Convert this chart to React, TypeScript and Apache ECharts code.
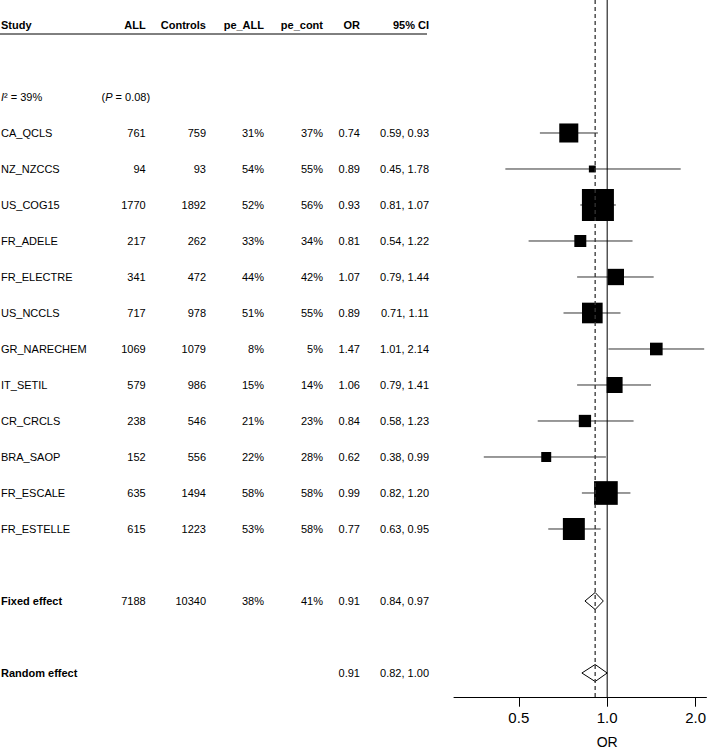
import React, { useEffect, useRef } from "react";
import * as echarts from "echarts";

// ---------- data ----------
const studies = ["CA_QCLS", "NZ_NZCCS", "US_COG15", "FR_ADELE", "FR_ELECTRE", "US_NCCLS", "GR_NARECHEM", "IT_SETIL", "CR_CRCLS", "BRA_SAOP", "FR_ESCALE", "FR_ESTELLE"];
const nAll = [761, 94, 1770, 217, 341, 717, 1069, 579, 238, 152, 635, 615];
const nControls = [759, 93, 1892, 262, 472, 978, 1079, 986, 546, 556, 1494, 1223];
const peAll = ["31%", "54%", "52%", "33%", "44%", "51%", "8%", "15%", "21%", "22%", "58%", "53%"];
const peCont = ["37%", "55%", "56%", "34%", "42%", "55%", "5%", "14%", "23%", "28%", "58%", "58%"];
const orVals = [0.74, 0.89, 0.93, 0.81, 1.07, 0.89, 1.47, 1.06, 0.84, 0.62, 0.99, 0.77];
const ciLow = [0.59, 0.45, 0.81, 0.54, 0.79, 0.71, 1.01, 0.79, 0.58, 0.38, 0.82, 0.63];
const ciHigh = [0.93, 1.78, 1.07, 1.22, 1.44, 1.11, 2.14, 1.41, 1.23, 0.99, 1.2, 0.95];
const weights = [9.1, 1.2, 25.7, 3.6, 6.7, 10.7, 4.0, 6.4, 3.8, 2.5, 14.1, 12.1];

const headers = ["Study", "ALL", "Controls", "pe_ALL", "pe_cont", "OR", "95% CI"];
const pooledLabels = ["Fixed effect", "Random effect"];
const pooledAll = ["7188", ""];
const pooledControls = ["10340", ""];
const pooledPeAll = ["38%", ""];
const pooledPeCont = ["41%", ""];
const pooledOR = [0.91, 0.91];
const pooledLow = [0.84, 0.82];
const pooledHigh = [0.97, 1.0];
const i2Text = "39%";
const pText = "0.08";
const tickValues = [0.5, 1, 2];
const axisTitle = "OR";

// ---------- layout ----------
const FONT = "'Liberation Sans', Arial, Helvetica, sans-serif";
const colRight = [145.7, 206, 264, 323, 360, 429];
const studyX = 1;
const pX = 101.5;
const headerSlot = 0;
const hetSlot = 2;
const firstStudySlot = 3;
const pooledSlots = [16, 18];
const yMin = -0.694;
const yMax = 18.686;
const xMin = -1.733;
const xMax = 1.123;

type Cell = { x: number; slot: number; text: string; align: string; bold?: boolean; rich?: boolean };
const cells: Cell[] = [];
headers.forEach((h, i) => {
  if (i === 0) cells.push({ x: studyX, slot: headerSlot, text: h, align: "left", bold: true });
  else cells.push({ x: colRight[i - 1], slot: headerSlot, text: h, align: "right", bold: true });
});
cells.push({ x: studyX, slot: hetSlot, text: "{it|I}² = " + i2Text, align: "left", rich: true });
cells.push({ x: pX, slot: hetSlot, text: "({it|P} = " + pText + ")", align: "left", rich: true });
studies.forEach((s, i) => {
  const slot = firstStudySlot + i;
  const vals = [String(nAll[i]), String(nControls[i]), peAll[i], peCont[i], orVals[i].toFixed(2), ciLow[i].toFixed(2) + ", " + ciHigh[i].toFixed(2)];
  cells.push({ x: studyX, slot, text: s, align: "left" });
  vals.forEach((v, j) => cells.push({ x: colRight[j], slot, text: v, align: "right" }));
});
pooledLabels.forEach((s, i) => {
  const slot = pooledSlots[i];
  const vals = [pooledAll[i], pooledControls[i], pooledPeAll[i], pooledPeCont[i], pooledOR[i].toFixed(2), pooledLow[i].toFixed(2) + ", " + pooledHigh[i].toFixed(2)];
  cells.push({ x: studyX, slot, text: s, align: "left", bold: true });
  vals.forEach((v, j) => {
    if (v) cells.push({ x: colRight[j], slot, text: v, align: "right" });
  });
});

const maxW = Math.max(...weights);
const maxBox = 32;

export default function App() {
  const ref = useRef<HTMLDivElement>(null);
  useEffect(() => {
    document.body.style.margin = "0";
    const chart = echarts.init(ref.current!, null, { renderer: "svg" });
    const option: any = {
      animation: false,
      backgroundColor: "#fff",
      textStyle: { fontFamily: FONT },
      grid: { left: 454, right: 0, top: 0, bottom: 52.3, containLabel: false },
      xAxis: {
        type: "value",
        min: xMin,
        max: xMax,
        splitLine: { show: false },
        axisLine: { show: true, onZero: false, lineStyle: { color: "#000", width: 1 } },
        axisTick: { show: true, customValues: tickValues.map((v) => Math.log2(v)), length: 9, lineStyle: { color: "#000", width: 1 } },
        axisLabel: {
          customValues: tickValues.map((v) => Math.log2(v)),
          formatter: (v: number) => Math.pow(2, v).toFixed(1),
          fontSize: 15,
          color: "#000",
          margin: 12,
          fontFamily: FONT,
        },
      },
      yAxis: { type: "value", inverse: true, min: yMin, max: yMax, show: false },
      graphic: [
        { type: "line", shape: { x1: 0, y1: 34, x2: 427, y2: 34 }, style: { stroke: "#000", lineWidth: 1 } },
      ],
      series: [
        {
          type: "line",
          data: [[0, yMin], [0, yMax]],
          symbol: "none",
          lineStyle: { color: "#000", width: 1 },
          silent: true,
        },
        {
          type: "line",
          data: [[Math.log2(pooledOR[0]), yMin], [Math.log2(pooledOR[0]), yMax]],
          symbol: "none",
          lineStyle: { color: "#333", width: 1.3, type: [4, 3] },
          silent: true,
        },
        {
          type: "custom",
          clip: false,
          silent: true,
          data: studies.map((_, i) => [Math.log2(orVals[i]), firstStudySlot + i, Math.log2(ciLow[i]), Math.log2(ciHigh[i]), weights[i]]),
          encode: { x: 0, y: 1 },
          renderItem: (params: any, api: any) => {
            const c = api.coord([api.value(0), api.value(1)]);
            const lo = api.coord([api.value(2), api.value(1)]);
            const hi = api.coord([api.value(3), api.value(1)]);
            const size = maxBox * Math.sqrt(api.value(4) / maxW);
            return {
              type: "group",
              children: [
                { type: "line", shape: { x1: lo[0], y1: c[1], x2: hi[0], y2: c[1] }, style: { stroke: "#333", lineWidth: 1 } },
                { type: "rect", shape: { x: c[0] - size / 2, y: c[1] - size / 2, width: size, height: size }, style: { fill: "#000" } },
              ],
            };
          },
        },
        {
          type: "custom",
          clip: false,
          silent: true,
          data: pooledOR.map((v, i) => [Math.log2(v), pooledSlots[i], Math.log2(pooledLow[i]), Math.log2(pooledHigh[i])]),
          encode: { x: 0, y: 1 },
          renderItem: (params: any, api: any) => {
            const c = api.coord([api.value(0), api.value(1)]);
            const lo = api.coord([api.value(2), api.value(1)]);
            const hi = api.coord([api.value(3), api.value(1)]);
            const h = 8.5;
            return {
              type: "polygon",
              shape: { points: [[lo[0], c[1]], [c[0], c[1] - h], [hi[0], c[1]], [c[0], c[1] + h]] },
              style: { fill: "none", stroke: "#000", lineWidth: 1 },
            };
          },
        },
        {
          type: "custom",
          clip: false,
          silent: true,
          data: cells.map((c) => [0, c.slot]),
          encode: { x: 0, y: 1 },
          renderItem: (params: any, api: any) => {
            const cell = cells[params.dataIndex];
            const p = api.coord([0, api.value(1)]);
            return {
              type: "text",
              x: cell.x,
              y: p[1],
              style: {
                text: cell.text,
                fontSize: 11,
                fontFamily: FONT,
                fontWeight: cell.bold ? "bold" : "normal",
                fill: "#000",
                align: cell.align,
                verticalAlign: "middle",
                rich: cell.rich
                  ? { it: { fontStyle: "italic", fontSize: 11, fontFamily: FONT, fill: "#000" } }
                  : undefined,
              },
            };
          },
        },
        {
          type: "custom",
          clip: false,
          silent: true,
          data: [[0, 19.92]],
          encode: { x: 0, y: 1 },
          renderItem: (params: any, api: any) => {
            const p = api.coord([api.value(0), api.value(1)]);
            return {
              type: "text",
              x: p[0],
              y: p[1],
              style: { text: axisTitle, fontSize: 14, fontFamily: FONT, fill: "#000", align: "center", verticalAlign: "middle" },
            };
          },
        },
      ],
    };
    chart.setOption(option);
    return () => chart.dispose();
  }, []);
  return <div ref={ref} style={{ width: 709, height: 750 }} />;
}
